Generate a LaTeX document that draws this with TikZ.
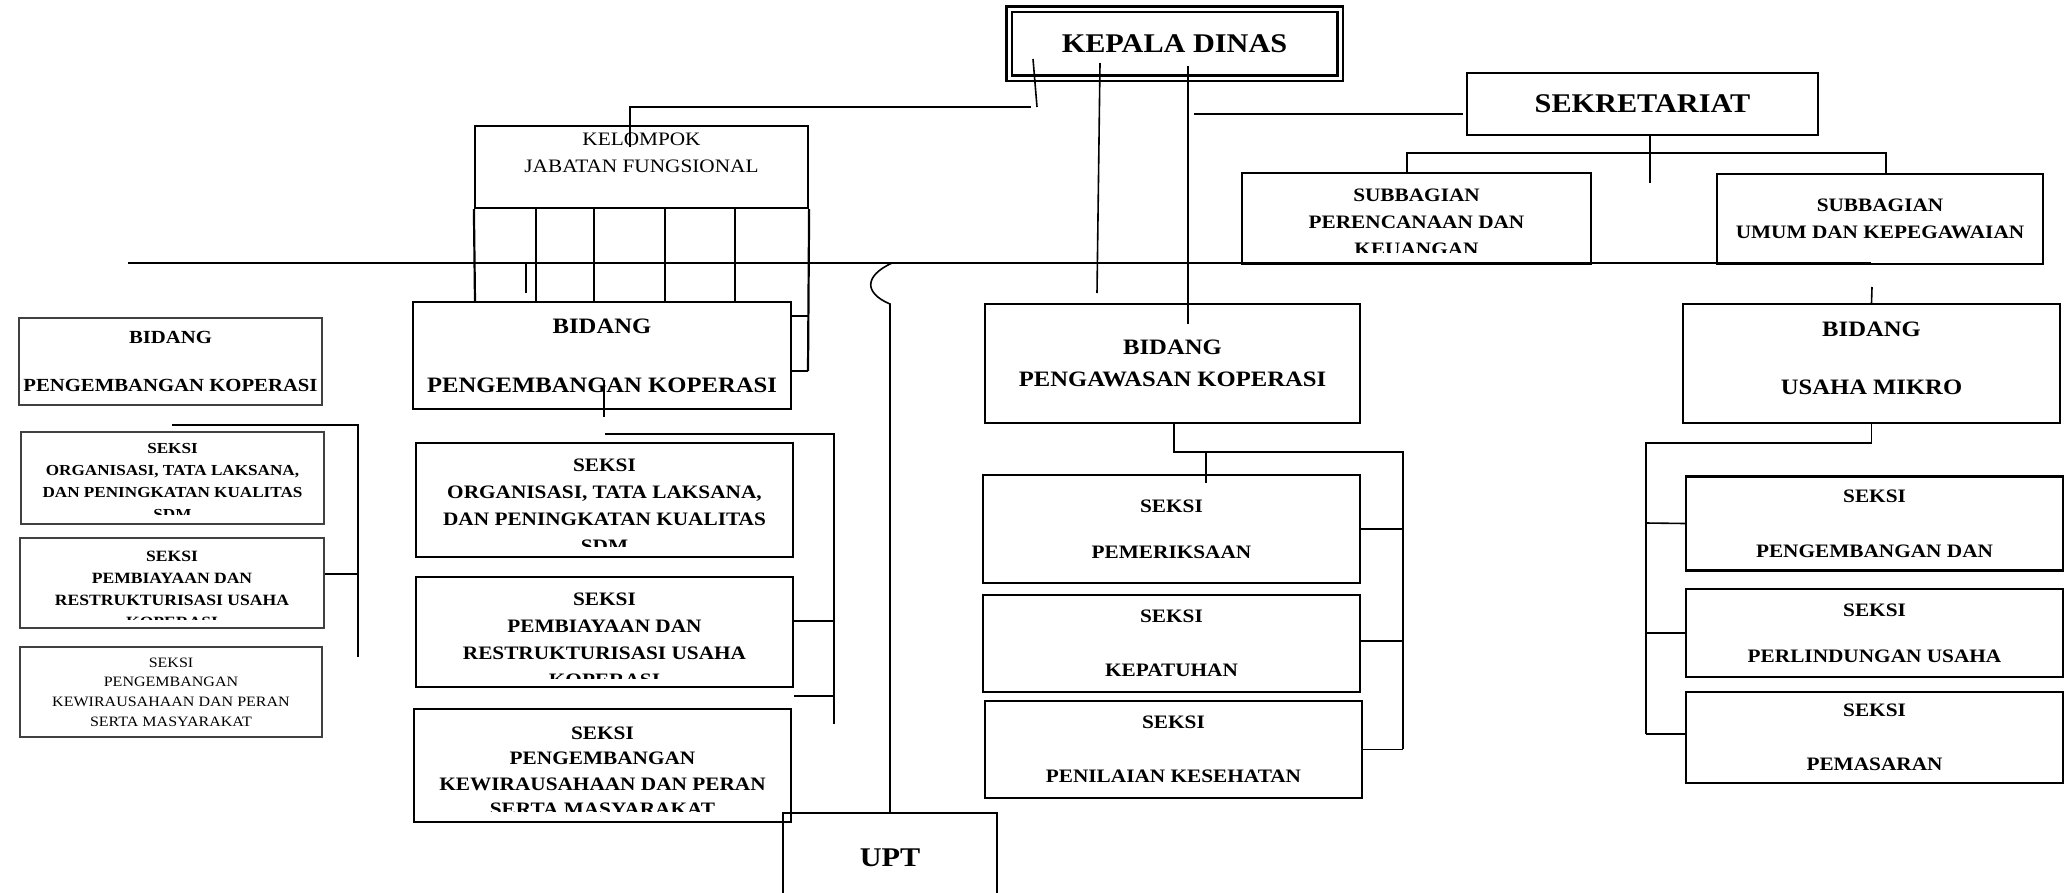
\documentclass[tikz,border=0pt]{standalone}
\usepackage{fontspec}
\setmainfont{Liberation Serif}[FakeStretch=1.12]
\newcommand{\fsz}[2]{\fontsize{#1}{#2}\selectfont}
\tikzstyle{box}=[draw, rectangle, line width=2.2pt, inner sep=0pt, align=center]
\tikzstyle{ghost}=[draw=black!75, rectangle, line width=1.6pt, inner sep=0pt, align=center]
\tikzstyle{txt}=[inner sep=0pt, align=center]
\tikzstyle{frame}=[line width=2.2pt]
\tikzstyle{link}=[line width=1.6pt]

\begin{document}
\begin{tikzpicture}[x=1pt, y=-1pt]
    \useasboundingbox (0,0) rectangle (2067,892);

    % top
    \node[box, double, line width=2.5pt, double distance=3pt, minimum width=331, minimum height=69, font=\fsz{27}{32}\bfseries] (kepala) at (1174.5,43.5) {KEPALA DINAS};
    \node[box, minimum width=351, minimum height=62, font=\fsz{27}{32}\bfseries] (sekre) at (1642.5,104) {SEKRETARIAT};
    \node[box, minimum width=349, minimum height=91] (subrenc) at (1416.5,218.5) {};
    \begin{scope}
        \clip (1242,173) rectangle (1591,252);
        \node[txt, font=\fsz{19}{27}\bfseries] (subrenctxt) at (1416.5,222.5) {SUBBAGIAN\\PERENCANAAN DAN\\KEUANGAN};
    \end{scope}
    \node[box, minimum width=326, minimum height=90, font=\fsz{19}{27}\bfseries] (subumum) at (1880,219) {SUBBAGIAN\\UMUM DAN KEPEGAWAIAN};

    % kelompok jabatan fungsional
    \node[box, minimum width=333, minimum height=82] (kelompok) at (641.5,167) {};
    \node[txt, font=\fsz{19}{27}] (kelompoktxt) at (641.5,152.5) {KELOMPOK\\JABATAN FUNGSIONAL};
    \draw[frame] (kelompok.south west) -- (475,302);
    \foreach \x in {536,594,665,735}
        \draw[frame] (\x,208) -- (\x,302);
    \draw[frame] (kelompok.south east) -- (808,371);
    \draw[frame] (791,316) -- (808,316) (791,371) -- (808,371);

    % bidang pengembangan koperasi (left copy)
    \node[ghost, minimum width=303, minimum height=87, font=\fsz{18.5}{48}\bfseries] (bidkop0) at (170.5,361.5) {BIDANG\\PENGEMBANGAN KOPERASI};
    \node[ghost, minimum width=303, minimum height=92] (sorg0) at (172.5,478) {};
    \begin{scope}
        \clip (21,432) rectangle (324,514);
        \node[txt, font=\fsz{15.3}{21.7}\bfseries] (sorg0txt) at (172.5,481.5) {SEKSI\\ORGANISASI, TATA LAKSANA,\\DAN PENINGKATAN KUALITAS\\SDM};
    \end{scope}
    \node[ghost, minimum width=304, minimum height=90] (sbiaya0) at (172,583) {};
    \begin{scope}
        \clip (20,538) rectangle (324,619);
        \node[txt, font=\fsz{15.7}{22}\bfseries] (sbiaya0txt) at (172,589.5) {SEKSI\\PEMBIAYAAN DAN\\RESTRUKTURISASI USAHA\\KOPERASI};
    \end{scope}
    \node[ghost, minimum width=302, minimum height=90, font=\fsz{14.3}{19.7}] (skwu0) at (171,692) {SEKSI\\PENGEMBANGAN\\KEWIRAUSAHAAN DAN PERAN\\SERTA MASYARAKAT};

    % bidang pengembangan koperasi
    \node[box, minimum width=378, minimum height=107, font=\fsz{22}{59}\bfseries] (bidkop) at (602,355.5) {BIDANG\\PENGEMBANGAN KOPERASI};
    \node[box, minimum width=377, minimum height=114] (sorg) at (604.5,500) {};
    \begin{scope}
        \clip (416,443) rectangle (793,546);
        \node[txt, font=\fsz{19}{27}\bfseries] (sorgtxt) at (604.5,506) {SEKSI\\ORGANISASI, TATA LAKSANA,\\DAN PENINGKATAN KUALITAS\\SDM};
    \end{scope}
    \node[box, minimum width=377, minimum height=110] (sbiaya) at (604.5,632) {};
    \begin{scope}
        \clip (416,577) rectangle (793,678);
        \node[txt, font=\fsz{19}{27}\bfseries] (sbiayatxt) at (604.5,640) {SEKSI\\PEMBIAYAAN DAN\\RESTRUKTURISASI USAHA\\KOPERASI};
    \end{scope}
    \node[box, minimum width=377, minimum height=113] (skwu) at (602.5,765.5) {};
    \begin{scope}
        \clip (414,709) rectangle (791,811);
        \node[txt, font=\fsz{19}{25.5}\bfseries] (skwutxt) at (602.5,771.5) {SEKSI\\PENGEMBANGAN\\KEWIRAUSAHAAN DAN PERAN\\SERTA MASYARAKAT};
    \end{scope}
    \node[box, minimum width=214, minimum height=90, font=\fsz{27}{32}\bfseries] (upt) at (890,858) {UPT};

    % bidang pengawasan koperasi
    \node[box, minimum width=375, minimum height=119, font=\fsz{22}{32}\bfseries] (bidawas) at (1172.5,363.5) {BIDANG\\PENGAWASAN KOPERASI};
    \node[box, minimum width=377, minimum height=108, font=\fsz{19}{46}\bfseries] (speriksa) at (1171.5,529) {SEKSI\\PEMERIKSAAN};
    \node[box, minimum width=377, minimum height=97, font=\fsz{19}{54}\bfseries] (spatuh) at (1171.5,643.5) {SEKSI\\KEPATUHAN};
    \node[box, minimum width=377, minimum height=97, font=\fsz{19}{54}\bfseries] (snilai) at (1173.5,749.5) {SEKSI\\PENILAIAN KESEHATAN};

    % bidang usaha mikro
    \node[box, minimum width=377, minimum height=119] (bidmikro) at (1871.5,363.5) {};
    \node[txt, font=\fsz{22}{58}\bfseries] (bidmikrotxt) at (1871.5,358.5) {BIDANG\\USAHA MIKRO};
    \node[box, minimum width=377, minimum height=94, font=\fsz{19}{55}\bfseries] (skembang) at (1874.5,523.5) {SEKSI\\PENGEMBANGAN DAN};
    \node[box, minimum width=377, minimum height=88, font=\fsz{19}{46}\bfseries] (slindung) at (1874.5,633) {SEKSI\\PERLINDUNGAN USAHA};
    \node[box, minimum width=377, minimum height=91, font=\fsz{19}{54}\bfseries] (spasar) at (1874.5,737.5) {SEKSI\\PEMASARAN};

    % lines from kepala dinas
    \draw[link] (630,147) -- (630,107) -- (1031,107);
    \draw[link] (1033,59) -- (1037,107);
    \draw[link] (1100,63) -- (1097,293);
    \draw[link] (1188,66) -- (1188,324);
    \draw[link] (1194,114) -- (1463,114);
    \draw[link] (1650,135) -- (1650,183);
    \draw[link] (1407,173) -- (1407,153) -- (1886,153) -- (1886,174);
    \draw[line width=2.5pt] (128,263) -- (1871,263);
    \draw[link] (526,263) -- (526,293);
    \draw[link] (892,263) .. controls (864,276) and (864,293) .. (890,304) -- (upt.north);
    \draw[link] (1872,287) -- (bidmikro.north);

    % seksi lines
    \draw[link] (604,380) -- (604,417);
    \draw[link] (605,434) -- (834,434) -- (834,724);
    \draw[link] (794,621) -- (834,621) (794,696) -- (834,696);
    \draw[link] (172,425) -- (358,425) -- (358,657);
    \draw[link] (325,574) -- (358,574);
    \draw[link] (1174,423) -- (1174,452) -- (1403,452) -- (1403,749);
    \draw[link] (1206,452) -- (1206,483);
    \draw[link] (speriksa.east) -- (1403,529);
    \draw[link] (1360,641) -- (1403,641);
    \draw[link] (snilai.east) -- (1403,749.5);
    \draw[link] (bidmikro.south) -- (1871.5,443) -- (1646,443) -- (1646,734);
    \draw[link] (1646,523) -- (skembang.west);
    \draw[link] (1646,633) -- (slindung.west);
    \draw[link] (1646,734) -- (1686,734);
\end{tikzpicture}
\end{document}
